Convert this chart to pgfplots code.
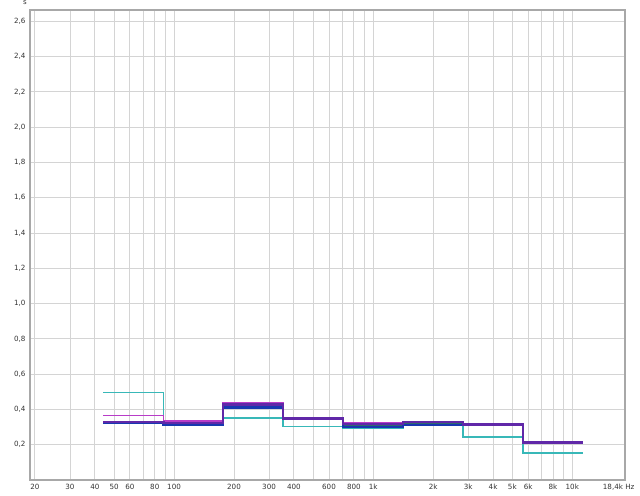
\documentclass[border=0pt]{standalone}
\usepackage{fontspec}
\setmainfont{DejaVu Sans}
\usepackage{pgfplots}
\pgfplotsset{compat=1.18}
\definecolor{cteal}{HTML}{38B8B8}
\definecolor{cmag}{HTML}{B83CC8}
\definecolor{cgreen}{HTML}{2E6A6E}
\definecolor{cblue}{HTML}{1838B0}
\definecolor{cpurp}{HTML}{6028A8}
\definecolor{gridc}{HTML}{D4D4D4}
\definecolor{framec}{HTML}{A8A8A8}
\begin{document}
\begin{tikzpicture}
\begin{axis}[
  name=ax, at={(0,0)}, anchor=south west,
  scale only axis, width=595bp, height=470bp,
  xmode=log, xmin=18.9, xmax=18400, ymin=0, ymax=2.664,
  axis line style={draw=framec, line width=2.4bp},
  grid=major, major grid style={draw=gridc, line width=0.9bp},
  major tick length=0pt, minor tick length=0pt,
  xtick={20,30,40,50,60,70,80,90,100,200,300,400,500,600,700,800,900,1000,2000,3000,4000,5000,6000,7000,8000,9000,10000},
  xticklabels={20,30,40,50,60,,80,,100,200,300,400,,600,,800,,1k,2k,3k,4k,5k,6k,,8k,,10k},
  extra x ticks={18400}, extra x tick labels={18{,}4k Hz},
  extra x tick style={grid=none, xticklabel style={anchor=north east, xshift=13bp}},
  ytick={0.2,0.4,...,2.61},
  yticklabel style={/pgf/number format/use comma, /pgf/number format/fixed, /pgf/number format/fixed zerofill, /pgf/number format/precision=1, xshift=-1bp},
  /pgf/number format/assume math mode=true,
  ticklabel style={font=\fontsize{7.2}{8}\selectfont, text=black!80},
  xticklabel style={yshift=-1bp},
  clip=true,
]
\addplot[const plot, cteal, line width=1.6bp] coordinates {(44.2,0.496)(88.4,0.318)(176.8,0.352)(353.6,0.303)(707,0.295)(1414,0.310)(2828,0.245)(5657,0.153)(11314,0.153)};
\addplot[const plot, cmag, line width=1.8bp] coordinates {(44.2,0.366)(88.4,0.334)(176.8,0.437)(353.6,0.347)(707,0.322)(1414,0.332)(2828,0.316)(5657,0.216)(11314,0.216)};
\addplot[const plot, cgreen, line width=1.5bp] coordinates {(44.2,0.332)(88.4,0.318)(176.8,0.420)(353.6,0.345)(707,0.305)(1414,0.318)(2828,0.314)(5657,0.212)(11314,0.212)};
\addplot[const plot, cblue, line width=2.2bp] coordinates {(44.2,0.323)(88.4,0.312)(176.8,0.411)(353.6,0.344)(707,0.302)(1414,0.313)(2828,0.313)(5657,0.210)(11314,0.210)};
\addplot[const plot, cpurp, line width=2.2bp] coordinates {(44.2,0.328)(88.4,0.322)(176.8,0.428)(353.6,0.349)(707,0.318)(1414,0.329)(2828,0.315)(5657,0.212)(11314,0.212)};
\end{axis}
\node[font=\fontsize{7}{8}\selectfont, text=black!80] at (-5bp,477bp) {s};
\pgfresetboundingbox
\path (-30bp,-16bp) rectangle (610bp,480bp);
\end{tikzpicture}
\end{document}
